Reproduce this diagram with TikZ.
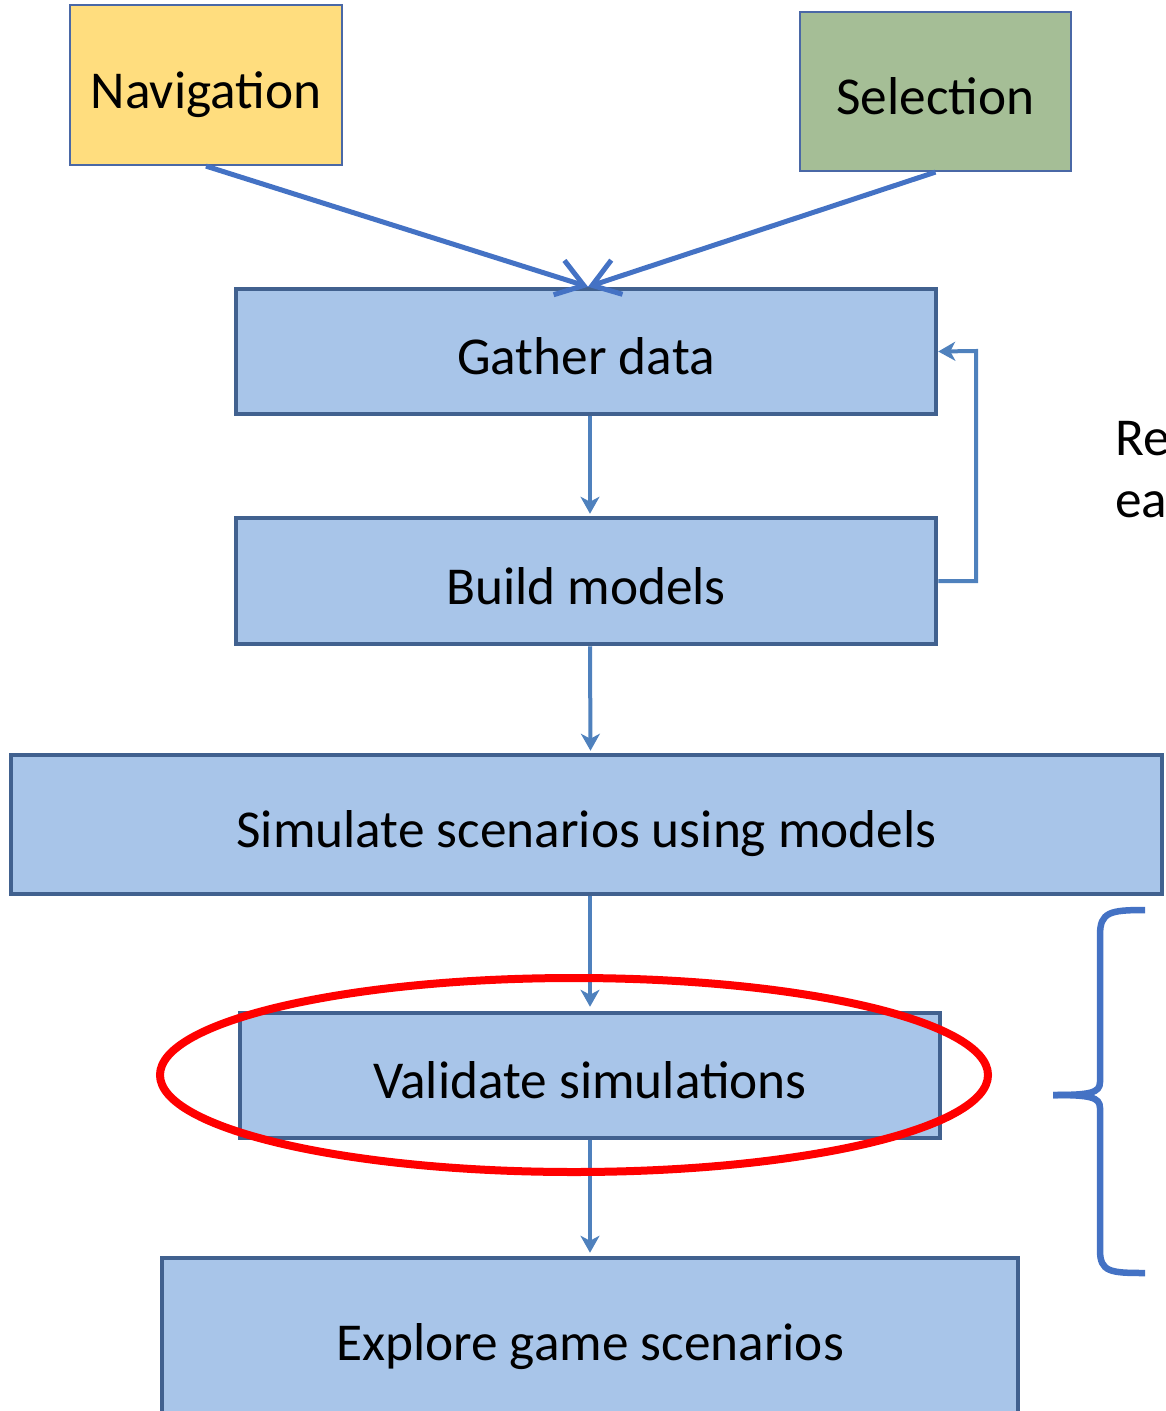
\documentclass[tikz,border=0pt]{standalone}
\usepackage{fontspec}
\setmainfont{Carlito}
\usetikzlibrary{arrows.meta}
\definecolor{navfill}{HTML}{FFDD7E}
\definecolor{selfill}{HTML}{A5BE96}
\definecolor{thinborder}{HTML}{4A68A6}
\definecolor{boxfill}{HTML}{A8C5E9}
\definecolor{boxborder}{HTML}{41618F}
\definecolor{arrowblue}{HTML}{4F81BD}
\definecolor{linkblue}{HTML}{4472C4}
\tikzset{
  x=1pt, y=-1pt,
  txt/.style={font=\fontsize{53.3}{64}\selectfont, text=black},
  boxtxt/.style={txt, text height=46pt, text depth=0pt},
  topbox/.style={boxtxt, draw=thinborder, line width=2.2pt, inner sep=0pt},
  mainbox/.style={boxtxt, draw=boxborder, fill=boxfill, line width=4.5pt, inner sep=0pt},
  arr/.style={draw=arrowblue, line width=4pt, -{Stealth[length=17pt,width=19pt,inset=5pt]}},
  toparr/.style={draw=linkblue, line width=5pt, -{Straight Barb[length=26pt,width=36pt]}},
  bracestyle/.style={draw=linkblue, line width=6.5pt},
  ring/.style={draw=red, line width=8pt}
}
\begin{document}
\begin{tikzpicture}
\useasboundingbox (0,0) rectangle (1166,1411);
\clip (0,0) rectangle (1166,1411);
% top boxes
\node[topbox, fill=navfill, minimum width=272pt, minimum height=160pt] (nav) at (206,85) {Navigation};
\node[topbox, fill=selfill, minimum width=271pt, minimum height=159pt] (sel) at (935.5,91.5) {Selection};
% main boxes
\node[mainbox, minimum width=700pt, minimum height=125pt] (gather) at (586,351.5) {Gather data};
\node[mainbox, minimum width=700pt, minimum height=126pt] (build) at (586,581) {Build models};
\node[mainbox, minimum width=1151pt, minimum height=139pt] (sim) at (586.5,824.5) {Simulate scenarios using models};
\node[mainbox, minimum width=700pt, minimum height=125pt] (val) at (590,1075.5) {Validate simulations};
\node[mainbox, minimum width=856pt, minimum height=158pt] (expl) at (590,1337) {Explore game scenarios};
% side text (cut off at right edge, as in the reference)
\node[txt, anchor=base west, inner sep=0pt] (re) at (1115,455) {Re};
\node[txt, anchor=base west, inner sep=0pt] (ea) at (1115,517) {ea};
% connectors
\draw[toparr] (nav.south) -- ([xshift=2pt]gather.north);
\draw[toparr] (sel.south) -- ([xshift=2pt]gather.north);
\draw[arr, shorten >=2pt] ([xshift=4pt]gather.south) -- ([xshift=4pt]build.north);
\draw[arr, shorten >=2pt] ([xshift=4pt]build.south) -- ([xshift=4pt]sim.north);
\draw[arr, shorten >=4pt] ([xshift=3.5pt]sim.south) -- (val.north);
\draw[arr, shorten >=3pt] (val.south) -- (expl.north);
\coordinate (fb1) at (976,581);
\coordinate (fb2) at (976,351);
\draw[arr] (build.east) -- (fb1) -- (fb2) -- (gather.east);
% red ellipse
\draw[ring] (574,1075) ellipse (414 and 97);
% brace
\draw[bracestyle] (1145,910) .. controls (1110,910) and (1100,912) .. (1100,935) -- (1100,1082)
  .. controls (1100,1093) and (1090,1095) .. (1053,1095);
\draw[bracestyle] (1053,1095) .. controls (1090,1095) and (1100,1097) .. (1100,1108) -- (1100,1250)
  .. controls (1100,1272) and (1110,1273) .. (1145,1273);
\end{tikzpicture}
\end{document}
